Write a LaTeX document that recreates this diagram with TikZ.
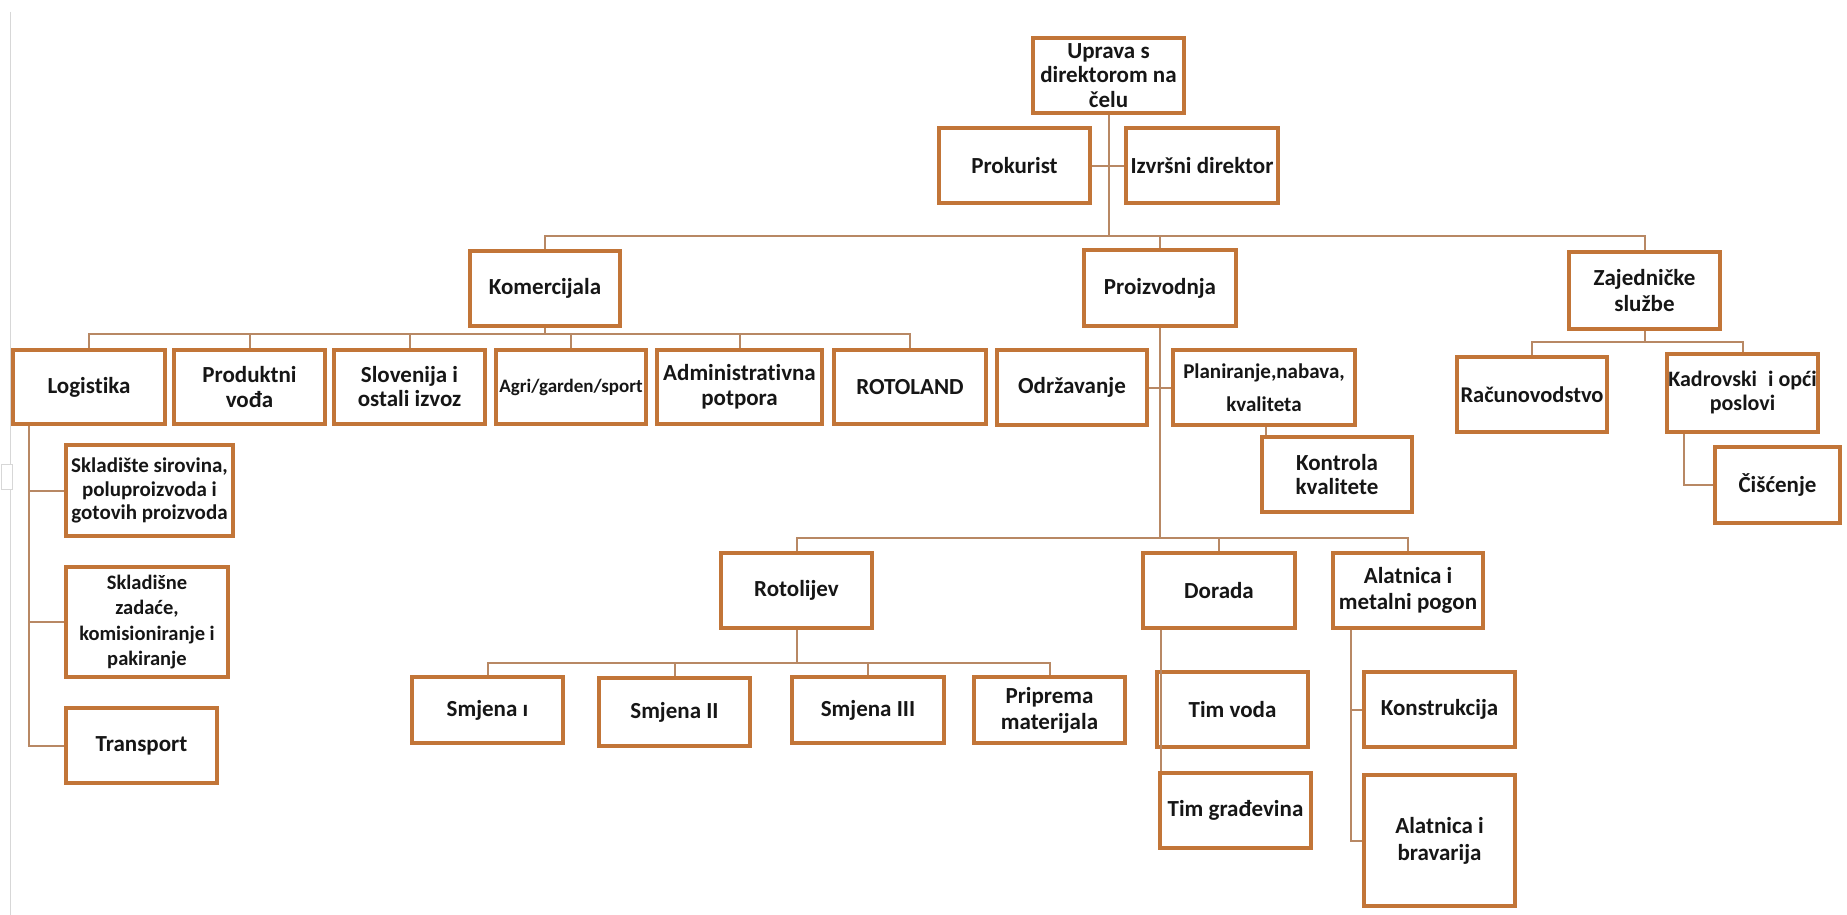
\documentclass[tikz,border=0pt]{standalone}
\usepackage{fontspec}
\setmainfont{Carlito}[Ligatures=NoCommon]
\usetikzlibrary{calc}
\definecolor{boxc}{RGB}{194,117,56}
\definecolor{linec}{RGB}{184,136,100}
\definecolor{txt}{RGB}{22,22,22}
\definecolor{edgegray}{RGB}{215,215,215}
\newcommand{\orgbox}[7][]{%
  \node[orgnode,minimum width={#4-#2},minimum height={#5-#3},#1] (#6) at ({(#2+#4)/2},{(#3+#5)/2}) {#7};}
\tikzset{
  orgnode/.style={draw=boxc, line width=3.5pt, fill=white, inner sep=0pt, align=center,
    text=txt, font=\bfseries\fontsize{23}{24.5}\selectfont},
  conn/.style={draw=linec, line width=2pt}
}
\begin{document}
\begin{tikzpicture}[x=1pt,y=-1pt]
\fill[white] (0,0) rectangle (1847,915);
\useasboundingbox (0,0) rectangle (1847,915);
% page edge artifact
\draw[edgegray, line width=1.5pt] (10.5,12) -- (10.5,915);
\draw[edgegray, line width=1pt, fill=white] (1,464) rectangle (12,489);
% bus levels and connector columns
\coordinate (busA) at (0,236);
\coordinate (busB) at (0,334);
\coordinate (busC) at (0,538);
\coordinate (busD) at (0,663);
\coordinate (busE) at (0,342);
\coordinate (lx) at (29,0);
\coordinate (kx) at (1266,0);
\coordinate (dx) at (1161,0);
\coordinate (ax) at (1351,0);
\coordinate (cx) at (1684,0);

% boxes
\orgbox{1033}{38}{1184}{113}{uprava}{Uprava s\\direktorom na\\čelu}
\orgbox{939}{128}{1090}{203}{prok}{Prokurist}
\orgbox{1126}{128}{1278}{203}{izvr}{Izvršni direktor}
\orgbox{470}{251}{620}{326}{kom}{Komercijala}
\orgbox{1084}{250}{1236}{326}{proiz}{Proizvodnja}
\orgbox[font=\bfseries\fontsize{23}{26}\selectfont]{1569}{252}{1720}{329}{zaj}{Zajedničke\\službe}
\orgbox{13}{350}{165}{424}{log}{Logistika}
\orgbox[font=\bfseries\fontsize{23}{24.5}\selectfont]{174}{350}{325}{424}{prod}{Produktni\\vođa}
\orgbox[font=\bfseries\fontsize{23}{24}\selectfont]{334}{350}{485}{424}{slo}{Slovenija i\\ostali izvoz}
\orgbox[font=\bfseries\fontsize{19}{22}\selectfont]{496}{350}{646}{424}{agri}{Agri/garden/sport}
\orgbox[font=\bfseries\fontsize{23}{25}\selectfont]{657}{350}{822}{424}{adm}{Administrativna\\potpora}
\orgbox{834}{350}{986}{424}{roto}{ROTOLAND}
\orgbox{997}{350}{1147}{425}{odr}{Održavanje}
\orgbox[font=\bfseries\fontsize{21}{24}\selectfont]{1173}{350}{1355}{425}{plan}{Planiranje,nabava,\\[9pt]kvaliteta}
\orgbox{1262}{437}{1412}{512}{kon}{Kontrola\\kvalitete}
\orgbox[font=\bfseries\fontsize{22.5}{24}\selectfont]{1457}{357}{1607}{432}{rac}{Računovodstvo}
\orgbox[font=\bfseries\fontsize{22}{24}\selectfont]{1667}{354}{1818}{432}{kad}{Kadrovski\enspace i opći\\poslovi}
\orgbox{1715}{447}{1840}{523}{cis}{Čišćenje}
\orgbox[font=\bfseries\fontsize{21}{23.3}\selectfont]{66}{445}{233}{536}{skla}{Skladište sirovina,\\poluproizvoda i\\gotovih proizvoda}
\orgbox[font=\bfseries\fontsize{20.5}{25.3}\selectfont]{66}{567}{228}{677}{sklb}{Skladišne\\zadaće,\\komisioniranje i\\pakiranje}
\orgbox{66}{708}{217}{783}{trans}{Transport}
\orgbox{721}{553}{872}{628}{rotl}{Rotolijev}
\orgbox{1143}{553}{1295}{628}{dor}{Dorada}
\orgbox[font=\bfseries\fontsize{23}{26}\selectfont]{1333}{553}{1483}{628}{alat}{Alatnica i\\metalni pogon}
\orgbox{412}{677}{563}{743}{sma}{Smjena ı}
\orgbox{599}{678}{750}{746}{smb}{Smjena II}
\orgbox{792}{677}{944}{743}{smc}{Smjena III}
\orgbox[font=\bfseries\fontsize{23}{26}\selectfont]{974}{677}{1125}{743}{prip}{Priprema\\materijala}
\orgbox{1157}{672}{1308}{747}{timv}{Tim voda}
\orgbox{1160}{773}{1311}{848}{timg}{Tim građevina}
\orgbox{1364}{672}{1515}{747}{kons}{Konstrukcija}
\orgbox[font=\bfseries\fontsize{23}{27}\selectfont]{1364}{775}{1515}{906}{alb}{Alatnica i\\bravarija}

% connectors
\draw[conn] (uprava.south) |- ($(proiz.north)+(0,-12)$) -- (proiz.north);
\draw[conn] (kom.north) -- (kom.north |- busA) -- (zaj.north |- busA) -- (zaj.north);
\draw[conn] (prok.east) -- (izvr.west);
\draw[conn] (kom.south) -- (kom.south |- busB);
\draw[conn] (log.north) -- (log.north |- busB) -- (roto.north |- busB) -- (roto.north);
\foreach \n in {prod,slo,agri,adm} {\draw[conn] (\n.north) -- (\n.north |- busB);}
\draw[conn] (log.south -| lx) |- (trans.west);
\draw[conn] (skla.west) -- (skla.west -| lx);
\draw[conn] (sklb.west) -- (sklb.west -| lx);
\draw[conn] (odr.east) -- (plan.west);
\draw[conn] (proiz.south) -- (proiz.south |- busC);
\draw[conn] (rotl.north) -- (rotl.north |- busC) -- (alat.north |- busC) -- (alat.north);
\draw[conn] (dor.north) -- (dor.north |- busC);
\draw[conn] (plan.south -| kx) -- (kon.north -| kx);
\draw[conn] (rotl.south) -- (rotl.south |- busD);
\draw[conn] (sma.north) -- (sma.north |- busD) -- (prip.north |- busD) -- (prip.north);
\draw[conn] (smb.north) -- (smb.north |- busD);
\draw[conn] (smc.north) -- (smc.north |- busD);
\draw[conn] (dor.south -| dx) -- (timg.north -| dx);
\draw[conn] (alat.south -| ax) |- (alb.west);
\draw[conn] (kons.west) -- (kons.west -| ax);
\draw[conn] (zaj.south) -- (zaj.south |- busE);
\draw[conn] (rac.north) -- (rac.north |- busE) -- (kad.north |- busE) -- (kad.north);
\draw[conn] (kad.south -| cx) |- (cis.west);
\end{tikzpicture}
\end{document}
